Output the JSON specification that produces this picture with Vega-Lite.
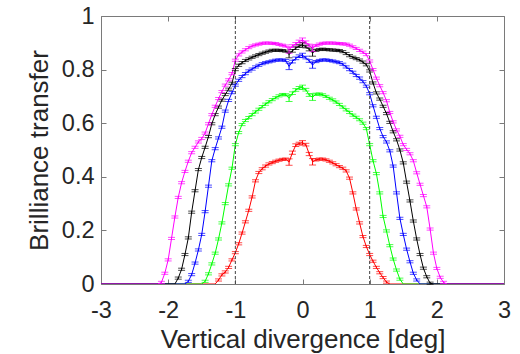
{
  "$schema": "https://vega.github.io/schema/vega-lite/v6.json",
  "width": 403,
  "height": 268,
  "autosize": "none",
  "padding": {"left": 101, "top": 16, "right": 16, "bottom": 70},
  "background": "white",
  "config": {
    "view": {"stroke": "#7a7a7a", "strokeWidth": 1},
    "font": "Liberation Sans",
    "axis": {
      "domain": false,
      "grid": false,
      "labelFont": "Liberation Sans",
      "titleFont": "Liberation Sans",
      "labelColor": "#262626",
      "titleColor": "#262626",
      "tickColor": "#7a7a7a",
      "titleFontWeight": "normal",
      "labelFontSize": 23.5,
      "titleFontSize": 26,
      "tickSize": -5,
      "labelFlush": false,
      "labelOverlap": false
    }
  },
  "datasets": {
    "guides": [{"x": -1}, {"x": 1}],
    "curves": [
      {"s":"r","x":-3,"y":0,"e":0},
      {"s":"r","x":-1.3,"y":0,"e":0},
      {"s":"r","x":-1.25,"y":0.015,"e":0.004},
      {"s":"r","x":-1.2,"y":0.034,"e":0.004},
      {"s":"r","x":-1.15,"y":0.045,"e":0.004},
      {"s":"r","x":-1.1,"y":0.062,"e":0.004},
      {"s":"r","x":-1.05,"y":0.09,"e":0.004},
      {"s":"r","x":-1.0,"y":0.117,"e":0.004},
      {"s":"r","x":-0.95,"y":0.15,"e":0.004},
      {"s":"r","x":-0.9,"y":0.19,"e":0.004},
      {"s":"r","x":-0.85,"y":0.232,"e":0.004},
      {"s":"r","x":-0.8,"y":0.275,"e":0.004},
      {"s":"r","x":-0.75,"y":0.325,"e":0.004},
      {"s":"r","x":-0.7,"y":0.385,"e":0.004},
      {"s":"r","x":-0.65,"y":0.416,"e":0.004},
      {"s":"r","x":-0.6,"y":0.43,"e":0.004},
      {"s":"r","x":-0.55,"y":0.44,"e":0.004},
      {"s":"r","x":-0.5,"y":0.448,"e":0.004},
      {"s":"r","x":-0.45,"y":0.453,"e":0.004},
      {"s":"r","x":-0.4,"y":0.458,"e":0.004},
      {"s":"r","x":-0.35,"y":0.462,"e":0.004},
      {"s":"r","x":-0.3,"y":0.465,"e":0.004},
      {"s":"r","x":-0.25,"y":0.466,"e":0.004},
      {"s":"r","x":-0.2,"y":0.455,"e":0.012},
      {"s":"r","x":-0.15,"y":0.49,"e":0.006},
      {"s":"r","x":-0.1,"y":0.518,"e":0.005},
      {"s":"r","x":-0.05,"y":0.524,"e":0.005},
      {"s":"r","x":0,"y":0.527,"e":0.008},
      {"s":"r","x":0.05,"y":0.52,"e":0.005},
      {"s":"r","x":0.1,"y":0.485,"e":0.006},
      {"s":"r","x":0.15,"y":0.456,"e":0.012},
      {"s":"r","x":0.2,"y":0.463,"e":0.004},
      {"s":"r","x":0.25,"y":0.466,"e":0.004},
      {"s":"r","x":0.3,"y":0.466,"e":0.004},
      {"s":"r","x":0.35,"y":0.463,"e":0.004},
      {"s":"r","x":0.4,"y":0.458,"e":0.004},
      {"s":"r","x":0.45,"y":0.452,"e":0.004},
      {"s":"r","x":0.5,"y":0.445,"e":0.004},
      {"s":"r","x":0.55,"y":0.438,"e":0.004},
      {"s":"r","x":0.6,"y":0.432,"e":0.004},
      {"s":"r","x":0.65,"y":0.422,"e":0.004},
      {"s":"r","x":0.7,"y":0.395,"e":0.004},
      {"s":"r","x":0.75,"y":0.34,"e":0.004},
      {"s":"r","x":0.8,"y":0.28,"e":0.004},
      {"s":"r","x":0.85,"y":0.228,"e":0.004},
      {"s":"r","x":0.9,"y":0.177,"e":0.004},
      {"s":"r","x":0.95,"y":0.14,"e":0.004},
      {"s":"r","x":1.0,"y":0.11,"e":0.004},
      {"s":"r","x":1.05,"y":0.085,"e":0.004},
      {"s":"r","x":1.1,"y":0.062,"e":0.004},
      {"s":"r","x":1.15,"y":0.042,"e":0.004},
      {"s":"r","x":1.2,"y":0.024,"e":0.004},
      {"s":"r","x":1.25,"y":0.007,"e":0.004},
      {"s":"r","x":1.3,"y":0,"e":0},
      {"s":"r","x":3,"y":0,"e":0},

      {"s":"g","x":-3,"y":0,"e":0},
      {"s":"g","x":-1.5,"y":0,"e":0},
      {"s":"g","x":-1.45,"y":0.01,"e":0.004},
      {"s":"g","x":-1.4,"y":0.038,"e":0.004},
      {"s":"g","x":-1.35,"y":0.075,"e":0.004},
      {"s":"g","x":-1.3,"y":0.115,"e":0.004},
      {"s":"g","x":-1.25,"y":0.168,"e":0.004},
      {"s":"g","x":-1.2,"y":0.228,"e":0.004},
      {"s":"g","x":-1.15,"y":0.3,"e":0.004},
      {"s":"g","x":-1.1,"y":0.37,"e":0.004},
      {"s":"g","x":-1.05,"y":0.432,"e":0.004},
      {"s":"g","x":-1.0,"y":0.52,"e":0.004},
      {"s":"g","x":-0.95,"y":0.565,"e":0.004},
      {"s":"g","x":-0.9,"y":0.595,"e":0.004},
      {"s":"g","x":-0.85,"y":0.61,"e":0.004},
      {"s":"g","x":-0.8,"y":0.621,"e":0.004},
      {"s":"g","x":-0.75,"y":0.632,"e":0.004},
      {"s":"g","x":-0.7,"y":0.642,"e":0.004},
      {"s":"g","x":-0.65,"y":0.652,"e":0.004},
      {"s":"g","x":-0.6,"y":0.662,"e":0.004},
      {"s":"g","x":-0.55,"y":0.671,"e":0.004},
      {"s":"g","x":-0.5,"y":0.68,"e":0.004},
      {"s":"g","x":-0.45,"y":0.688,"e":0.004},
      {"s":"g","x":-0.4,"y":0.695,"e":0.004},
      {"s":"g","x":-0.35,"y":0.702,"e":0.004},
      {"s":"g","x":-0.3,"y":0.707,"e":0.004},
      {"s":"g","x":-0.25,"y":0.706,"e":0.004},
      {"s":"g","x":-0.2,"y":0.693,"e":0.012},
      {"s":"g","x":-0.15,"y":0.712,"e":0.005},
      {"s":"g","x":-0.1,"y":0.724,"e":0.005},
      {"s":"g","x":-0.05,"y":0.732,"e":0.005},
      {"s":"g","x":0,"y":0.734,"e":0.008},
      {"s":"g","x":0.05,"y":0.725,"e":0.005},
      {"s":"g","x":0.1,"y":0.705,"e":0.005},
      {"s":"g","x":0.15,"y":0.697,"e":0.012},
      {"s":"g","x":0.2,"y":0.708,"e":0.004},
      {"s":"g","x":0.25,"y":0.709,"e":0.004},
      {"s":"g","x":0.3,"y":0.706,"e":0.004},
      {"s":"g","x":0.35,"y":0.7,"e":0.004},
      {"s":"g","x":0.4,"y":0.693,"e":0.004},
      {"s":"g","x":0.45,"y":0.687,"e":0.004},
      {"s":"g","x":0.5,"y":0.679,"e":0.004},
      {"s":"g","x":0.55,"y":0.67,"e":0.004},
      {"s":"g","x":0.6,"y":0.66,"e":0.004},
      {"s":"g","x":0.65,"y":0.65,"e":0.004},
      {"s":"g","x":0.7,"y":0.64,"e":0.004},
      {"s":"g","x":0.75,"y":0.63,"e":0.004},
      {"s":"g","x":0.8,"y":0.622,"e":0.004},
      {"s":"g","x":0.85,"y":0.613,"e":0.004},
      {"s":"g","x":0.9,"y":0.6,"e":0.004},
      {"s":"g","x":0.95,"y":0.58,"e":0.004},
      {"s":"g","x":1.0,"y":0.52,"e":0.004},
      {"s":"g","x":1.05,"y":0.46,"e":0.004},
      {"s":"g","x":1.1,"y":0.412,"e":0.004},
      {"s":"g","x":1.15,"y":0.34,"e":0.004},
      {"s":"g","x":1.2,"y":0.252,"e":0.004},
      {"s":"g","x":1.25,"y":0.198,"e":0.004},
      {"s":"g","x":1.3,"y":0.143,"e":0.004},
      {"s":"g","x":1.35,"y":0.093,"e":0.004},
      {"s":"g","x":1.4,"y":0.052,"e":0.004},
      {"s":"g","x":1.45,"y":0.018,"e":0.004},
      {"s":"g","x":1.5,"y":0,"e":0},
      {"s":"g","x":3,"y":0,"e":0},

      {"s":"b","x":-3,"y":0,"e":0},
      {"s":"b","x":-1.75,"y":0,"e":0},
      {"s":"b","x":-1.7,"y":0.01,"e":0.004},
      {"s":"b","x":-1.65,"y":0.035,"e":0.004},
      {"s":"b","x":-1.6,"y":0.078,"e":0.004},
      {"s":"b","x":-1.55,"y":0.127,"e":0.004},
      {"s":"b","x":-1.5,"y":0.185,"e":0.004},
      {"s":"b","x":-1.45,"y":0.27,"e":0.004},
      {"s":"b","x":-1.4,"y":0.365,"e":0.004},
      {"s":"b","x":-1.35,"y":0.46,"e":0.004},
      {"s":"b","x":-1.3,"y":0.505,"e":0.004},
      {"s":"b","x":-1.25,"y":0.545,"e":0.004},
      {"s":"b","x":-1.2,"y":0.585,"e":0.004},
      {"s":"b","x":-1.15,"y":0.645,"e":0.004},
      {"s":"b","x":-1.1,"y":0.685,"e":0.004},
      {"s":"b","x":-1.05,"y":0.714,"e":0.004},
      {"s":"b","x":-1.0,"y":0.742,"e":0.004},
      {"s":"b","x":-0.95,"y":0.76,"e":0.004},
      {"s":"b","x":-0.9,"y":0.774,"e":0.004},
      {"s":"b","x":-0.85,"y":0.785,"e":0.004},
      {"s":"b","x":-0.8,"y":0.795,"e":0.004},
      {"s":"b","x":-0.75,"y":0.802,"e":0.004},
      {"s":"b","x":-0.7,"y":0.81,"e":0.004},
      {"s":"b","x":-0.65,"y":0.816,"e":0.004},
      {"s":"b","x":-0.6,"y":0.822,"e":0.004},
      {"s":"b","x":-0.55,"y":0.826,"e":0.004},
      {"s":"b","x":-0.5,"y":0.829,"e":0.004},
      {"s":"b","x":-0.45,"y":0.832,"e":0.004},
      {"s":"b","x":-0.4,"y":0.835,"e":0.004},
      {"s":"b","x":-0.35,"y":0.836,"e":0.004},
      {"s":"b","x":-0.3,"y":0.836,"e":0.004},
      {"s":"b","x":-0.25,"y":0.834,"e":0.004},
      {"s":"b","x":-0.2,"y":0.812,"e":0.012},
      {"s":"b","x":-0.15,"y":0.83,"e":0.005},
      {"s":"b","x":-0.1,"y":0.842,"e":0.005},
      {"s":"b","x":-0.05,"y":0.85,"e":0.005},
      {"s":"b","x":0,"y":0.853,"e":0.008},
      {"s":"b","x":0.05,"y":0.845,"e":0.005},
      {"s":"b","x":0.1,"y":0.832,"e":0.005},
      {"s":"b","x":0.15,"y":0.817,"e":0.012},
      {"s":"b","x":0.2,"y":0.83,"e":0.004},
      {"s":"b","x":0.25,"y":0.834,"e":0.004},
      {"s":"b","x":0.3,"y":0.836,"e":0.004},
      {"s":"b","x":0.35,"y":0.836,"e":0.004},
      {"s":"b","x":0.4,"y":0.834,"e":0.004},
      {"s":"b","x":0.45,"y":0.832,"e":0.004},
      {"s":"b","x":0.5,"y":0.829,"e":0.004},
      {"s":"b","x":0.55,"y":0.826,"e":0.004},
      {"s":"b","x":0.6,"y":0.82,"e":0.004},
      {"s":"b","x":0.65,"y":0.81,"e":0.004},
      {"s":"b","x":0.7,"y":0.8,"e":0.004},
      {"s":"b","x":0.75,"y":0.79,"e":0.004},
      {"s":"b","x":0.8,"y":0.778,"e":0.004},
      {"s":"b","x":0.85,"y":0.768,"e":0.004},
      {"s":"b","x":0.9,"y":0.755,"e":0.004},
      {"s":"b","x":0.95,"y":0.738,"e":0.004},
      {"s":"b","x":1.0,"y":0.71,"e":0.004},
      {"s":"b","x":1.05,"y":0.665,"e":0.004},
      {"s":"b","x":1.1,"y":0.622,"e":0.004},
      {"s":"b","x":1.15,"y":0.58,"e":0.004},
      {"s":"b","x":1.2,"y":0.55,"e":0.004},
      {"s":"b","x":1.25,"y":0.53,"e":0.004},
      {"s":"b","x":1.3,"y":0.497,"e":0.004},
      {"s":"b","x":1.35,"y":0.44,"e":0.004},
      {"s":"b","x":1.4,"y":0.34,"e":0.004},
      {"s":"b","x":1.45,"y":0.245,"e":0.004},
      {"s":"b","x":1.5,"y":0.185,"e":0.004},
      {"s":"b","x":1.55,"y":0.13,"e":0.004},
      {"s":"b","x":1.6,"y":0.083,"e":0.004},
      {"s":"b","x":1.65,"y":0.04,"e":0.004},
      {"s":"b","x":1.7,"y":0.015,"e":0.004},
      {"s":"b","x":1.75,"y":0,"e":0},
      {"s":"b","x":3,"y":0,"e":0},

      {"s":"k","x":-3,"y":0,"e":0},
      {"s":"k","x":-1.9,"y":0,"e":0},
      {"s":"k","x":-1.85,"y":0.022,"e":0.004},
      {"s":"k","x":-1.8,"y":0.055,"e":0.004},
      {"s":"k","x":-1.75,"y":0.11,"e":0.004},
      {"s":"k","x":-1.7,"y":0.172,"e":0.004},
      {"s":"k","x":-1.65,"y":0.268,"e":0.004},
      {"s":"k","x":-1.6,"y":0.348,"e":0.004},
      {"s":"k","x":-1.55,"y":0.427,"e":0.004},
      {"s":"k","x":-1.5,"y":0.472,"e":0.004},
      {"s":"k","x":-1.45,"y":0.51,"e":0.004},
      {"s":"k","x":-1.4,"y":0.55,"e":0.004},
      {"s":"k","x":-1.35,"y":0.598,"e":0.004},
      {"s":"k","x":-1.3,"y":0.632,"e":0.004},
      {"s":"k","x":-1.25,"y":0.66,"e":0.004},
      {"s":"k","x":-1.2,"y":0.686,"e":0.004},
      {"s":"k","x":-1.15,"y":0.707,"e":0.004},
      {"s":"k","x":-1.1,"y":0.727,"e":0.004},
      {"s":"k","x":-1.05,"y":0.749,"e":0.004},
      {"s":"k","x":-1.0,"y":0.8,"e":0.004},
      {"s":"k","x":-0.95,"y":0.816,"e":0.004},
      {"s":"k","x":-0.9,"y":0.826,"e":0.004},
      {"s":"k","x":-0.85,"y":0.834,"e":0.004},
      {"s":"k","x":-0.8,"y":0.84,"e":0.004},
      {"s":"k","x":-0.75,"y":0.846,"e":0.004},
      {"s":"k","x":-0.7,"y":0.851,"e":0.004},
      {"s":"k","x":-0.65,"y":0.856,"e":0.004},
      {"s":"k","x":-0.6,"y":0.861,"e":0.004},
      {"s":"k","x":-0.55,"y":0.865,"e":0.004},
      {"s":"k","x":-0.5,"y":0.869,"e":0.004},
      {"s":"k","x":-0.45,"y":0.872,"e":0.004},
      {"s":"k","x":-0.4,"y":0.872,"e":0.004},
      {"s":"k","x":-0.35,"y":0.872,"e":0.004},
      {"s":"k","x":-0.3,"y":0.871,"e":0.004},
      {"s":"k","x":-0.25,"y":0.869,"e":0.004},
      {"s":"k","x":-0.2,"y":0.856,"e":0.012},
      {"s":"k","x":-0.15,"y":0.87,"e":0.005},
      {"s":"k","x":-0.1,"y":0.88,"e":0.005},
      {"s":"k","x":-0.05,"y":0.888,"e":0.005},
      {"s":"k","x":0,"y":0.892,"e":0.008},
      {"s":"k","x":0.05,"y":0.886,"e":0.005},
      {"s":"k","x":0.1,"y":0.875,"e":0.005},
      {"s":"k","x":0.15,"y":0.862,"e":0.012},
      {"s":"k","x":0.2,"y":0.872,"e":0.004},
      {"s":"k","x":0.25,"y":0.875,"e":0.004},
      {"s":"k","x":0.3,"y":0.876,"e":0.004},
      {"s":"k","x":0.35,"y":0.875,"e":0.004},
      {"s":"k","x":0.4,"y":0.874,"e":0.004},
      {"s":"k","x":0.45,"y":0.873,"e":0.004},
      {"s":"k","x":0.5,"y":0.872,"e":0.004},
      {"s":"k","x":0.55,"y":0.871,"e":0.004},
      {"s":"k","x":0.6,"y":0.867,"e":0.004},
      {"s":"k","x":0.65,"y":0.86,"e":0.004},
      {"s":"k","x":0.7,"y":0.852,"e":0.004},
      {"s":"k","x":0.75,"y":0.846,"e":0.004},
      {"s":"k","x":0.8,"y":0.841,"e":0.004},
      {"s":"k","x":0.85,"y":0.836,"e":0.004},
      {"s":"k","x":0.9,"y":0.828,"e":0.004},
      {"s":"k","x":0.95,"y":0.818,"e":0.004},
      {"s":"k","x":1.0,"y":0.795,"e":0.004},
      {"s":"k","x":1.05,"y":0.75,"e":0.004},
      {"s":"k","x":1.1,"y":0.713,"e":0.004},
      {"s":"k","x":1.15,"y":0.69,"e":0.004},
      {"s":"k","x":1.2,"y":0.663,"e":0.004},
      {"s":"k","x":1.25,"y":0.636,"e":0.004},
      {"s":"k","x":1.3,"y":0.603,"e":0.004},
      {"s":"k","x":1.35,"y":0.568,"e":0.004},
      {"s":"k","x":1.4,"y":0.538,"e":0.004},
      {"s":"k","x":1.45,"y":0.5,"e":0.004},
      {"s":"k","x":1.5,"y":0.452,"e":0.004},
      {"s":"k","x":1.55,"y":0.38,"e":0.004},
      {"s":"k","x":1.6,"y":0.31,"e":0.004},
      {"s":"k","x":1.65,"y":0.235,"e":0.004},
      {"s":"k","x":1.7,"y":0.168,"e":0.004},
      {"s":"k","x":1.75,"y":0.11,"e":0.004},
      {"s":"k","x":1.8,"y":0.059,"e":0.004},
      {"s":"k","x":1.85,"y":0.027,"e":0.004},
      {"s":"k","x":1.9,"y":0.003,"e":0.004},
      {"s":"k","x":1.95,"y":0,"e":0},
      {"s":"k","x":3,"y":0,"e":0},

      {"s":"m","x":-3,"y":0,"e":0},
      {"s":"m","x":-2.15,"y":0,"e":0},
      {"s":"m","x":-2.1,"y":0.006,"e":0.004},
      {"s":"m","x":-2.05,"y":0.04,"e":0.004},
      {"s":"m","x":-2.0,"y":0.09,"e":0.004},
      {"s":"m","x":-1.95,"y":0.17,"e":0.004},
      {"s":"m","x":-1.9,"y":0.25,"e":0.004},
      {"s":"m","x":-1.85,"y":0.323,"e":0.004},
      {"s":"m","x":-1.8,"y":0.378,"e":0.004},
      {"s":"m","x":-1.75,"y":0.42,"e":0.004},
      {"s":"m","x":-1.7,"y":0.458,"e":0.004},
      {"s":"m","x":-1.65,"y":0.49,"e":0.004},
      {"s":"m","x":-1.6,"y":0.51,"e":0.004},
      {"s":"m","x":-1.55,"y":0.53,"e":0.004},
      {"s":"m","x":-1.5,"y":0.543,"e":0.004},
      {"s":"m","x":-1.45,"y":0.563,"e":0.004},
      {"s":"m","x":-1.4,"y":0.598,"e":0.004},
      {"s":"m","x":-1.35,"y":0.632,"e":0.004},
      {"s":"m","x":-1.3,"y":0.663,"e":0.004},
      {"s":"m","x":-1.25,"y":0.692,"e":0.004},
      {"s":"m","x":-1.2,"y":0.718,"e":0.004},
      {"s":"m","x":-1.15,"y":0.742,"e":0.004},
      {"s":"m","x":-1.1,"y":0.762,"e":0.004},
      {"s":"m","x":-1.05,"y":0.785,"e":0.004},
      {"s":"m","x":-1.0,"y":0.835,"e":0.004},
      {"s":"m","x":-0.95,"y":0.855,"e":0.004},
      {"s":"m","x":-0.9,"y":0.866,"e":0.004},
      {"s":"m","x":-0.85,"y":0.874,"e":0.004},
      {"s":"m","x":-0.8,"y":0.882,"e":0.004},
      {"s":"m","x":-0.75,"y":0.888,"e":0.004},
      {"s":"m","x":-0.7,"y":0.892,"e":0.004},
      {"s":"m","x":-0.65,"y":0.895,"e":0.004},
      {"s":"m","x":-0.6,"y":0.898,"e":0.004},
      {"s":"m","x":-0.55,"y":0.899,"e":0.004},
      {"s":"m","x":-0.5,"y":0.899,"e":0.004},
      {"s":"m","x":-0.45,"y":0.898,"e":0.004},
      {"s":"m","x":-0.4,"y":0.897,"e":0.004},
      {"s":"m","x":-0.35,"y":0.894,"e":0.004},
      {"s":"m","x":-0.3,"y":0.891,"e":0.004},
      {"s":"m","x":-0.25,"y":0.888,"e":0.004},
      {"s":"m","x":-0.2,"y":0.873,"e":0.012},
      {"s":"m","x":-0.15,"y":0.888,"e":0.005},
      {"s":"m","x":-0.1,"y":0.896,"e":0.005},
      {"s":"m","x":-0.05,"y":0.905,"e":0.005},
      {"s":"m","x":0,"y":0.91,"e":0.008},
      {"s":"m","x":0.05,"y":0.902,"e":0.005},
      {"s":"m","x":0.1,"y":0.89,"e":0.005},
      {"s":"m","x":0.15,"y":0.879,"e":0.012},
      {"s":"m","x":0.2,"y":0.89,"e":0.004},
      {"s":"m","x":0.25,"y":0.895,"e":0.004},
      {"s":"m","x":0.3,"y":0.898,"e":0.004},
      {"s":"m","x":0.35,"y":0.899,"e":0.004},
      {"s":"m","x":0.4,"y":0.899,"e":0.004},
      {"s":"m","x":0.45,"y":0.899,"e":0.004},
      {"s":"m","x":0.5,"y":0.898,"e":0.004},
      {"s":"m","x":0.55,"y":0.897,"e":0.004},
      {"s":"m","x":0.6,"y":0.896,"e":0.004},
      {"s":"m","x":0.65,"y":0.895,"e":0.004},
      {"s":"m","x":0.7,"y":0.891,"e":0.004},
      {"s":"m","x":0.75,"y":0.885,"e":0.004},
      {"s":"m","x":0.8,"y":0.879,"e":0.004},
      {"s":"m","x":0.85,"y":0.872,"e":0.004},
      {"s":"m","x":0.9,"y":0.865,"e":0.004},
      {"s":"m","x":0.95,"y":0.856,"e":0.004},
      {"s":"m","x":1.0,"y":0.832,"e":0.004},
      {"s":"m","x":1.05,"y":0.8,"e":0.004},
      {"s":"m","x":1.1,"y":0.768,"e":0.004},
      {"s":"m","x":1.15,"y":0.74,"e":0.004},
      {"s":"m","x":1.2,"y":0.714,"e":0.004},
      {"s":"m","x":1.25,"y":0.684,"e":0.004},
      {"s":"m","x":1.3,"y":0.64,"e":0.004},
      {"s":"m","x":1.35,"y":0.605,"e":0.004},
      {"s":"m","x":1.4,"y":0.575,"e":0.004},
      {"s":"m","x":1.45,"y":0.551,"e":0.004},
      {"s":"m","x":1.5,"y":0.52,"e":0.004},
      {"s":"m","x":1.55,"y":0.502,"e":0.004},
      {"s":"m","x":1.6,"y":0.486,"e":0.004},
      {"s":"m","x":1.65,"y":0.46,"e":0.004},
      {"s":"m","x":1.7,"y":0.415,"e":0.004},
      {"s":"m","x":1.75,"y":0.372,"e":0.004},
      {"s":"m","x":1.8,"y":0.33,"e":0.004},
      {"s":"m","x":1.85,"y":0.288,"e":0.004},
      {"s":"m","x":1.9,"y":0.205,"e":0.004},
      {"s":"m","x":1.95,"y":0.115,"e":0.004},
      {"s":"m","x":2.0,"y":0.058,"e":0.004},
      {"s":"m","x":2.05,"y":0.025,"e":0.004},
      {"s":"m","x":2.1,"y":0.006,"e":0.004},
      {"s":"m","x":2.15,"y":0,"e":0},
      {"s":"m","x":3,"y":0,"e":0}
    ]
  },
  "layer": [
    {
      "data": {"name": "curves"},
      "mark": {"type": "line", "strokeWidth": 1, "clip": true},
      "encoding": {
        "x": {
          "field": "x", "type": "quantitative",
          "scale": {"domain": [-3, 3], "nice": false, "zero": false},
          "axis": {
            "orient": "bottom",
            "values": [-3, -2, -1, 0, 1, 2, 3],
            "labelExpr": "'' + datum.value",
            "title": "Vertical divergence [deg]",
            "labelPadding": 19,
            "titlePadding": 5
          }
        },
        "y": {
          "field": "y", "type": "quantitative",
          "scale": {"domain": [0, 1], "nice": false},
          "axis": {
            "orient": "left",
            "values": [0, 0.2, 0.4, 0.6, 0.8, 1],
            "labelExpr": "'' + datum.value",
            "title": "Brilliance transfer",
            "labelPadding": 12,
            "titlePadding": 9
          }
        },
        "color": {
          "field": "s", "type": "nominal",
          "scale": {"domain": ["r", "g", "b", "k", "m"], "range": ["#ff0000", "#00ff00", "#0000ff", "#000000", "#ff00ff"]},
          "legend": null
        }
      }
    },
    {
      "data": {"name": "curves"},
      "transform": [{"filter": "datum.y > 0"}],
      "mark": {"type": "errorbar", "ticks": {"size": 7}, "thickness": 1},
      "encoding": {
        "x": {"field": "x", "type": "quantitative", "axis": null},
        "y": {"field": "y", "type": "quantitative", "axis": null},
        "yError": {"field": "e"},
        "color": {"field": "s", "type": "nominal", "legend": null}
      }
    },
    {
      "data": {"name": "guides"},
      "mark": {"type": "rule", "color": "#404040", "strokeDash": [3, 2], "strokeWidth": 1},
      "encoding": {
        "x": {
          "field": "x", "type": "quantitative",
          "axis": {"orient": "top", "labels": false, "title": null, "values": [-3, -2, -1, 0, 1, 2, 3]}
        },
        "y": {
          "datum": 0, "type": "quantitative",
          "axis": {"orient": "right", "labels": false, "title": null, "values": [0, 0.2, 0.4, 0.6, 0.8, 1]}
        },
        "y2": {"datum": 1}
      }
    }
  ],
  "resolve": {"axis": {"x": "independent", "y": "independent"}}
}
